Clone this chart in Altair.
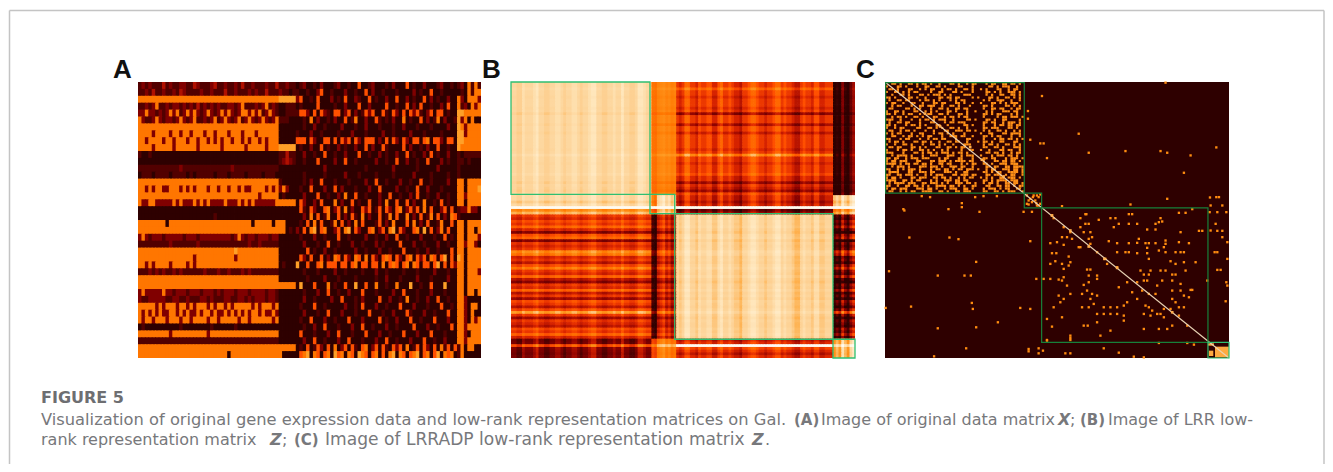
import altair as alt

alt.data_transformers.disable_max_rows()

LEVELS = [0, 1, 2, 3, 4, 5, 6, 7, 8, 9, 10]
HOT = ["#2e0000", "#520000", "#800000", "#b01000", "#e02800", "#ff5000", "#ff7600",
       "#ffa028", "#fdd092", "#ffe8c0", "#fffaf0"]

# ---------- Panel A: original data, levels read per row (left, middle, right zones)
A_LEFT = [
"1212111312112211321112311211213112111211311211",
"1121311211213211112112111311211121211311121101",
"6666666666666666666666666666666666666666677777",
"1121261121221212131212121122126111212612100111",
"2262212126261262621262126262126626261262100111",
"6211262122126212611212612621261262126212611100",
"6666666666666666666666666666666666666666600000",
"6666266662662662666266266626662666266666600000",
"6626666266266626626626262662662626626266600000",
"6666266666266666626666662666666266666266677777",
"1001000000000000000000000000000000000000011311",
"0000000000000000000000000000000000000000012321",
"1111111111112111111111111112111111111111100000",
"0111011110111101011111011101111011110111000000",
"6666666666666666666666666666666666666666610000",
"6626266226662626266626626626626226666262626200",
"6666666666666666666666666666666666626666601000",
"6226622222626222626262222622262626222222666666",
"0000000000000000000000000000000000000000000000",
"0000000000000000000000100000000000000000000000",
"6666666606666666666666666666666660666660666000",
"6666666666666666666666666666666666666666666010",
"2621222122222122212222222221262122122212200000",
"1111111112111111121111111111111121121111100000",
"6666666666666666666666666666766666666666600000",
"6666666666666666266666666666266666666666600000",
"6626266662666626266666666666666666666666601000",
"1112121211212111111211121121112121111111100000",
"6666666666666666666666666666666666666666600000",
"6666666666666666666666666666666666666666666666",
"2622222622122212221222121222122212222122100000",
"2112222211221121112212111221122121222122100000",
"6666626266626626266626266262666662626662600000",
"6262626226626262262662622626262626626226200000",
"6266266626662662666626626666626626666662600000",
"0100000000001000000001000000100000000000000000",
"6666666662666666666626666666666666666666600000",
"1111111111111111111111111111111111111111100000",
"6666666666666666666666666666666666666666666666",
"6666666666666666666666666606666666666666660000",
]
A_MID = [
"01200102000120010050012000102000501002000120010",
"10010025001000200100502001000100002010050010000",
"25001050002010500210050100200500201005020100200",
"01000050000100200050020000500100502050010020500",
"15520505210550250201525005105205052510250550100",
"00106020010200501600200510102006010050201602001",
"00100200100002000100200010001002000100010000200",
"10002001000010002000100002001000020001000010000",
"55505200550505250520555020505205205505605520550",
"01002005010020100200502005100005020010200500100",
"00200100500100200050010020100200501002050100200",
"00100050000200500100000200100500200100500020100",
"00000000200000000000100000002000000100000200000",
"00100000100000200010000100001000002000010000100",
"00102005000100010000200500100020010050010000200",
"01005000200502000100020050000200100500200010000",
"00200050010020600500100020050010020500100200100",
"05200205000602005010050020600500502006001050100",
"05105200560250602005250150520560251506050025050",
"00206050160050205106020050160500602050160502065",
"01050605001605020605000150206000506020500160050",
"20506705600250670520056025067052005607050260500",
"01000200100050010000200100200500100020001005010",
"00200010050010002001000201000050002001000200100",
"00050100200100000200100020010005000100200100050",
"05205005020650520650605205650520560525065057050",
"70050056055505505605505506056505606505505705052",
"00100010000200100001000200100001000100002000100",
"00010000200010000100000100200010000200010000200",
"07000500060100500700500600100600070010050007000",
"00100020050010020005000100002005000100020001000",
"00200100002005000102000050020010600100200500100",
"01000500100000200105000200100050002000100050010",
"00200010050002000100050001002000510002001000500",
"01005000200100050002000050100200050010005000200",
"00100200500010002005001000200100005000200100050",
"05000100020050001000500020010005000200050001000",
"00200500100020050001000200500100020005001002000",
"01050152050602505105602505105250601505205061505",
"05670650560756065076505605067065056705605706560",
]
A_RIGHT = [
"1206161","0106166","6206662","6120626","7766666","7260600","7626666","7726666",
"7766666","7666666","1011111","1101000","1000000","1000000","6606666","6606667",
"6626666","6606666","1226220","1000000","6606666","6606606","6606662","6626620",
"6606666","7606666","6606666","6606662","6606666","6606666","6606606","6620000",
"6620660","6620600","6620626","6626666","6620666","6626666","1606600","1600000",
]

# ---------- Panel B: low-rank matrix read as block level + row / column stripes
B_COL_BANDS = [
"554465556755445566545566545567755445565575544577655",
"105675645",
"545775546556644675565443556776554556775655433565546644555",
"13163157",
]
B_ROW_BANDS = [
"55755455545155525535555545955455564414315",
"6656k24",
"54657416715459845368547315473526536a525436574",
"45k6545",
]
B_BASE = [[8.3, 6.3, 4.4, 1.5],
          [7.9, 8.0, 3.0, 8.4],
          [4.3, 3.4, 8.2, 2.6],
          [1.9, 6.0, 4.0, 8.3]]
B_ROW_GAIN = [[0.05, 0.1, 0.5, 0.2],
              [0.5, 0.3, 0.6, 0.5],
              [0.55, 0.4, 0.05, 0.7],
              [0.2, 0.1, 0.7, 0.1]]
B_COL_GAIN = [[0.3, 0.1, 0.6, 0.6],
              [0.3, 0.5, 0.7, 0.3],
              [0.4, 0.7, 0.35, 0.6],
              [0.8, 0.3, 0.5, 0.4]]
B_BOX_COLS = [(0, 50.5), (50.5, 59.5), (59.5, 117), (117, 125)]
B_BOX_ROWS = [(0, 40.7), (40.7, 47.7), (47.7, 93.2), (93.2, 100)]

# ---------- Panel C: sparse matrix, first block read on a coarse grid
C_BLOCK = [
"..oo.o..oo.o.oo.o..o...oo.o..o.oo...o.oo..oo.oo.o.",
"o...oo.o...o..oo..oo.o....oo...o.....oo.o.ooo..o..",
".oo.o...oo..o.o.oo..o.oo.o..oo.o..o.o...oo..o.oo..",
"o..oo.o.o.oo....o..oo...oo.o...o....oo.o.o..ooo.o.",
"..o..oo.o...oo.o.ooo.o.o....ooo.....o.o..oo..oo.o.",
"oo.o....oo.o..o....oo.oo.oo....o.o...oo.o..oo.o.o.",
".o..oo.oo...o.oo.o.o...o.o.oo......o.o..ooo..o..o.",
"o.oo..o..oo..o...oo.oo...oo.o..o..o...oo.o.o.ooo..",
"..o.oo...o..oo.ooo..o..oo.o...o....oo.o....oo.o.o.",
".oo....oo.o.o...o..oo.o..oo.oo.....o..oo.oo..o.oo.",
"o..oo.o...oo..o.o.o...oo.o...o..o...o.o...ooo.oo..",
"oo.o..o.oo..o..oo..oo.o...oo.o.....oo.o.oo...o.o..",
"..o.oo.o..oo.o...oo..o.oo.o.oo.....o....o.oo.ooo.o",
"ooo..o...o..o.oo.o.ooo..o....oo.o...oo.o..oo....o.",
".o..oo.oo...o...oo...o.oo.ooo......oo.oo..o.ooo.o.",
"oo.o...o.oo.o.o...oo..o.....oo.o...o...o.oo.oo.oo.",
"o..o.oo....oo..oo.o.o..oo.o..o.....oo.ooo...oo.o..",
".oo..o.oo.o...o..o...oo..ooo.oo.o..o.o..oo.o..o.o.",
"o.o.oo...o..oo...o.oo.o.o...o.....o..oo...oo.oooo.",
"..oo..o.oo.o.o.oo...o..ooo.oo..o...oo.o.oo...o..o.",
"oo...o.oo...o..o.oo.oo...o...oo....o...o.oo.oo.o.o",
".o.oo.o...oo.oo.o..o..oo.oo..o...o.oo.o..oo...oo..",
"o..o..oo.o...o..oo.o.o..o...ooo....o.oo.o..oo.o.o.",
".oo.oo...oo.o.o...oo..oo.o.oo......oo..oo.o...ooo.",
"o...o.oo.o..oo.o.o..o.o....o..oo..o..o...oo.oo..o.",
"ooo...o...oo.o.oo.o.ooo.o.oo.o......oo.oo.o..o.oo.",
"..o.oooo.o...o..ooo...ooo..o.ooo..o...o.ooo.oo.o..",
"oo.oo..o.ooo.ooo...o.oo...oo...o...oo.oo...o.ooo.o",
"o.oo.ooo...oo...oo.ooo.o.oooo.oo...o...oo.oo.oo.o.",
"oooo.o.oo.oo.oo.o..oo.oo...o.o.oo..oo.o..ooo.ooo..",
"..o.ooo.o...ooo.ooo.o..ooo.oo..o....oo.oo..oo.oooo",
"oo..o.o.ooo.o...o.oo.oo.o.oo.ooo.o..o.oo..ooo.oo.o",
".oooo...oo..ooo.oo...ooo.o..oo.....oo.o.oo..oooo.o",
"oo..oo.ooo.o..o.o.ooo...oo.ooo.oo...oo.ooo.o.oo..o",
"o.oo.o...oo.ooo..oo.oo.o..o.o.oo..o.o.o..oo.ooo.o.",
"oooo..oo.o.oo...o.o..ooo.oo.oo.....oo.o.oooo.ooo..",
".o.oooo.ooo..oo.ooo.o.o..ooo.oo.o..o.oo.o..oo.oo.o",
"oo..o..oo.oo.o.o..oooo.oo.o.o..oo...oo..oo.oo.o.oo",
"o.oo.ooo...ooo.oo.o..o.ooo..oo.o...o.ooo.o.oo..oo.",
".oo..o.o.oo..oooo..oo.o..oo.ooo....oo..oo.o.ooo..o",
]
C_X = [945,575,533,533,685,540,570,580,590,715,825,930,950,1020,1097,1000,
       160,163,215,240,295,335,335,375,400,440,388,178,298,325,378,117,263,343,362,183,365,368,107,510,540,263,378,443,348,252,
       535,535,565,565,578,645,660,760,805,850,880,925,1010,1030,660,660,660,590,540,558,520,545,635,840,950,
       1078,1097,1105,1080,1115,1077,1100,1127,1095,1080,1100,1115,1115,1130,1092,1100,1130,1100,1110,1127,1130,1125,1045,1055,
       605,610,705,708,690,705,715,745,780,795,805,835,845,835,860,915,925,935,930,985,1005,1025,640,660,690,700,720,725,790,890,915,990,
       600,620,635,640,650,665,605,618,685,690,715,775,800,835,860,865,885,895,915,945,945,940,925,890,985,1015,720,740,765,800,825,835,860,890,945,975,990,1000,895,960,975,1000,1035,
       600,635,640,615,655,660,655,710,720,770,800,870,900,895,880,930,945,965,975,1005,600,625,640,635,580,715,715,700,740,740,805,830,860,880,890,920,935,965,990,1070,
       625,650,660,630,610,640,695,710,725,740,720,730,695,715,760,780,800,820,830,845,860,875,895,915,965,990,1020,1025,1015,965,975,1000,
       885,895,905,920,930,940,960,880,900,940,985,1000,985,605,590,635,700,712,740,740,760,780,800,820,820,780,750,880,925,965,950,1010,590,
       530,535,540,550,560,565,530,545,555,565,570,560,570,535,548,558]
C_Y = [97,137,182,205,250,268,279,279,323,307,302,302,307,315,291,367,
       476,480,437,440,476,458,470,440,437,437,484,561,561,566,634,662,675,675,675,768,757,775,772,772,775,833,830,815,893,917,
       895,902,893,908,900,908,908,893,906,918,920,877,877,882,855,862,868,868,572,685,484,484,467,462,445,
       441,440,440,465,465,485,485,485,520,540,541,541,560,575,605,605,625,658,658,695,705,752,541,541,
       495,503,491,491,503,520,520,508,503,503,520,491,491,520,520,520,515,513,503,487,487,476,530,545,530,545,545,560,530,537,537,545,
       578,575,560,583,560,565,608,608,590,590,565,572,578,578,577,565,578,578,578,570,580,590,600,592,575,578,580,605,625,605,605,605,608,608,605,605,605,605,625,632,640,635,635,
       640,640,655,632,645,635,618,657,657,640,650,660,660,672,672,660,660,672,672,660,685,687,680,690,685,675,695,703,675,685,710,695,695,690,690,705,690,690,700,690,
       735,705,730,755,770,745,730,720,730,735,745,760,770,770,770,770,770,765,755,725,745,720,730,730,720,720,718,718,740,745,755,735,
       765,770,780,790,790,775,775,790,795,800,795,770,770,828,805,800,825,825,790,815,790,790,790,795,810,840,855,835,835,825,835,825,870,
       435,450,445,435,435,440,460,455,450,465,460,465,432,462,440,458]
C_BRIGHT_X = [225, 270, 360, 395, 460, 605, 660, 715, 762, 800, 965]
C_BRIGHT_Y = [190, 228, 290, 328, 378, 495, 540, 588, 625, 652, 785]
C_DIAG_X = [105, 1135]
C_DIAG_Y = [95, 922]
C_BOX_X = [(107, 522), (522, 574), (574, 1072), (1072, 1135)]
C_BOX_Y = [(97, 428), (428, 472), (472, 875), (875, 922)]
C_PATCH_X = [(1093, 1135), (1072, 1090), (1075, 1088)]
C_PATCH_Y = [(888, 920), (878, 885), (900, 916)]

PANEL_LABELS = ["A", "B", "C"]
LABEL_X = [105, 474, 848]
CAPTION_HEAD = "FIGURE 5"
LINE1 = [("Visualization of original gene expression data and low-rank representation matrices on Gal.", "normal", "normal", 33, 16.3),
         ("(A)", "bold", "normal", 786, 15),
         ("Image of original data matrix", "normal", "normal", 813, 16),
         ("X", "bold", "italic", 1050, 16),
         (";", "normal", "normal", 1062, 16),
         ("(B)", "bold", "normal", 1072, 15),
         ("Image of LRR low-", "normal", "normal", 1100, 16)]
LINE2 = [("rank representation matrix", "normal", "normal", 33, 16),
         ("Z", "bold", "italic", 262, 16),
         (";", "normal", "normal", 274, 16),
         ("(C)", "bold", "normal", 286, 15),
         ("Image of LRRADP low-rank representation matrix", "normal", "normal", 317, 17.1),
         ("Z", "bold", "italic", 744, 16),
         (".", "normal", "normal", 757, 16)]

color = alt.Color("v:Q", legend=None,
                  scale=alt.Scale(domain=LEVELS, range=HOT, clamp=True))


def X(name, dom, rng):
    return alt.X(name, axis=None, scale=alt.Scale(domain=dom, range=rng, nice=False, zero=False, clamp=True))


def Y(name, dom, rng):
    return alt.Y(name, axis=None, scale=alt.Scale(domain=dom, range=rng, nice=False, zero=False, clamp=True))


def cells(rows, xd, xr, yd, yr):
    recs = []
    for r, row in enumerate(rows):
        for c, ch in enumerate(row):
            recs.append({"c": c, "c2": c + 1.25, "r": r, "r2": r + 1.25, "v": ch})
    return alt.Chart(alt.Data(values=recs)).mark_rect(strokeWidth=0).encode(
        x=X("c:Q", xd, xr), x2="c2:Q", y=Y("r:Q", yd, yr), y2="r2:Q", color=color)


# Panel A
A_rows = [[int(ch) for ch in (a[:46].ljust(46, "0") + b[:47].ljust(47, "0") + d[:7].ljust(7, "0"))]
          for a, b, d in zip(A_LEFT, A_MID, A_RIGHT)]
panel_a = cells(A_rows, [0, 100], [130, 473], [0, 40], [74, 350])

# Panel B
B_rows = []
for i, rband in enumerate(B_ROW_BANDS):
    for rch in rband:
        row = []
        rdev = int(rch, 36) - 5
        for j, cband in enumerate(B_COL_BANDS):
            for cch in cband:
                cdev = int(cch, 36) - 5
                row.append(round(B_BASE[i][j] + B_ROW_GAIN[i][j] * rdev + B_COL_GAIN[i][j] * cdev, 1))
        B_rows.append(row)
BX, BR = [0, 125], [503, 847]
BY, BYR = [0, 100], [74, 350]
panel_b = cells(B_rows, BX, BR, BY, BYR)
b_boxes = alt.Chart(alt.Data(values=[
    {"x": a[0], "x2": a[1], "y": b[0], "y2": b[1]} for a, b in zip(B_BOX_COLS, B_BOX_ROWS)
])).mark_rect(fill="transparent", stroke="#2fbf71", strokeWidth=1.3).encode(
    x=X("x:Q", BX, BR), x2="x2:Q", y=Y("y:Q", BY, BYR), y2="y2:Q")

# Panel C
CX, CR = [105, 1135], [877, 1221]
CY, CYR = [95, 922], [74, 350]
c_bg = alt.Chart(alt.Data(values=[{"x": CX[0], "x2": CX[1], "y": CY[0], "y2": CY[1], "v": 0}])).mark_rect(
    strokeWidth=0).encode(x=X("x:Q", CX, CR), x2="x2:Q", y=Y("y:Q", CY, CYR), y2="y2:Q", color=color)
block_recs = []
for r, row in enumerate(C_BLOCK):
    for c, ch in enumerate(row):
        if ch == "o":
            wide = c + 1 < len(row) and row[c + 1] == "o"
            tall = r + 1 < len(C_BLOCK) and c < len(C_BLOCK[r + 1]) and C_BLOCK[r + 1][c] == "o"
            block_recs.append({"x": 107 + c * 8.3, "x2": 107 + (c + (1 if wide else 0.8)) * 8.3,
                               "y": 97 + r * 8.27, "y2": 97 + (r + (1 if tall else 0.75)) * 8.27, "v": 6.6})
for a, b in zip(C_PATCH_X, C_PATCH_Y):
    block_recs.append({"x": a[0], "x2": a[1], "y": b[0], "y2": b[1], "v": 7.2})
c_block = alt.Chart(alt.Data(values=block_recs)).mark_rect(strokeWidth=0).encode(
    x=X("x:Q", CX, CR), x2="x2:Q", y=Y("y:Q", CY, CYR), y2="y2:Q", color=color)
c_pts = alt.Chart(alt.Data(values=[{"x": a, "y": b} for a, b in zip(C_X, C_Y)])).mark_square(
    size=5.5, color="#ff8c10", opacity=1).encode(x=X("x:Q", CX, CR), y=Y("y:Q", CY, CYR))
c_diag = alt.Chart(alt.Data(values=[{"x": a, "y": b} for a, b in zip(C_DIAG_X, C_DIAG_Y)])).mark_line(
    color="#e8d2b4", strokeWidth=1.2).encode(x=X("x:Q", CX, CR), y=Y("y:Q", CY, CYR))
c_bright = alt.Chart(alt.Data(values=[{"x": a, "y": b} for a, b in zip(C_BRIGHT_X, C_BRIGHT_Y)])).mark_square(
    size=7, color="#ffb050", opacity=1).encode(x=X("x:Q", CX, CR), y=Y("y:Q", CY, CYR))
box_recs = [{"x": a[0], "x2": a[1], "y": b[0], "y2": b[1]} for a, b in zip(C_BOX_X[:3], C_BOX_Y[:3])]
c_boxes = alt.Chart(alt.Data(values=box_recs)).mark_rect(
    fill="transparent", stroke="#17803a", strokeWidth=1.2).encode(
    x=X("x:Q", CX, CR), x2="x2:Q", y=Y("y:Q", CY, CYR), y2="y2:Q")
c_box4 = alt.Chart(alt.Data(values=[{"x": C_BOX_X[3][0], "x2": C_BOX_X[3][1], "y": C_BOX_Y[3][0], "y2": C_BOX_Y[3][1]}])).mark_rect(
    fill="transparent", stroke="#2fbf71", strokeWidth=1.2).encode(
    x=X("x:Q", CX, CR), x2="x2:Q", y=Y("y:Q", CY, CYR), y2="y2:Q")


def text(s, x, y, size, weight="normal", style="normal", col="#77787b", font="DejaVu Sans"):
    return alt.Chart(alt.Data(values=[{"t": s}])).mark_text(
        align="left", baseline="alphabetic", font=font, fontSize=size,
        fontWeight=weight, fontStyle=style, color=col).encode(
        text="t:N", x=alt.value(x), y=alt.value(y))


texts = [text(s, x, 70, 26, "bold", col="#111111", font="Liberation Sans")
         for s, x in zip(PANEL_LABELS, LABEL_X)]
texts.append(text(CAPTION_HEAD, 33, 395, 16, "bold", col="#6d6e71"))
for s, w, st, x, sz in LINE1:
    texts.append(text(s, x, 417, sz, w, st))
for s, w, st, x, sz in LINE2:
    texts.append(text(s, x, 437, sz, w, st))

frame = [
    alt.Chart(alt.Data(values=[{"a": 0}])).mark_rule(color="#c4c4c4", strokeWidth=1.5).encode(
        x=alt.value(1.5), x2=alt.value(1316), y=alt.value(2.5)),
    alt.Chart(alt.Data(values=[{"a": 0}])).mark_rule(color="#c4c4c4", strokeWidth=1.5).encode(
        x=alt.value(1.5), y=alt.value(2.5), y2=alt.value(456)),
    alt.Chart(alt.Data(values=[{"a": 0}])).mark_rule(color="#c4c4c4", strokeWidth=1.5).encode(
        x=alt.value(1316), y=alt.value(2.5), y2=alt.value(456)),
]

chart = alt.layer(
    *frame, panel_a, panel_b, b_boxes, c_bg, c_block, c_pts, c_diag, c_bright, c_boxes, c_box4, *texts
).resolve_scale(x="independent", y="independent").properties(
    width=1317, height=456, padding=0, autosize=alt.AutoSizeParams(type="none"),
    background="white"
).configure_view(stroke=None)

chart.save("out.html", embed_options={"renderer": "svg", "actions": False})
